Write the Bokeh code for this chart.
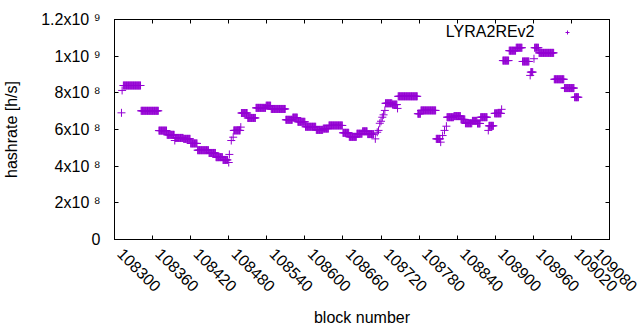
import math
from bokeh.plotting import figure
from bokeh.models import (Range1d, FixedTicker, LinearAxis, Legend, LegendItem,
                          Label, ColumnDataSource)
from bokeh.embed import file_html
from bokeh.resources import INLINE

# ---- data: runs of consecutive blocks sharing one hashrate
run_start = [108311, 108312, 108314, 108342, 108370, 108383, 108395, 108396, 108409, 108420,
             108431, 108449, 108460, 108471, 108480, 108481, 108484, 108487, 108488, 108499,
             108500, 108510, 108523, 108539, 108547, 108570, 108581, 108589, 108601, 108618,
             108629, 108638, 108660, 108670, 108682, 108691, 108699, 108711, 108714, 108716,
             108718, 108720, 108722, 108724, 108726, 108727, 108738, 108746, 108747, 108778,
             108783, 108807, 108814, 108817, 108820, 108823, 108824, 108835, 108846, 108853,
             108864, 108872, 108877, 108889, 108890, 108899, 108910, 108912, 108922, 108933,
             108943, 108955, 108956, 108961, 108962, 108969, 108993, 109009, 109025]
run_end = [108311, 108312, 108341, 108369, 108382, 108394, 108395, 108408, 108419, 108430,
           108448, 108459, 108470, 108478, 108480, 108481, 108484, 108487, 108498, 108499,
           108509, 108522, 108538, 108546, 108569, 108580, 108588, 108600, 108617, 108628,
           108637, 108659, 108669, 108681, 108690, 108698, 108708, 108711, 108714, 108716,
           108718, 108720, 108722, 108724, 108726, 108737, 108745, 108746, 108777, 108782,
           108806, 108813, 108814, 108817, 108820, 108823, 108834, 108845, 108852, 108863,
           108871, 108876, 108887, 108889, 108897, 108909, 108910, 108921, 108932, 108942,
           108953, 108955, 108959, 108961, 108968, 108992, 109008, 109024, 109031]
run_value = [6.91e8, 8.13e8, 8.40e8, 7.02e8, 5.94e8, 5.71e8, 5.40e8, 5.54e8, 5.49e8, 5.24e8,
             4.87e8, 4.72e8, 4.49e8, 4.34e8, 4.20e8, 4.64e8, 5.40e8, 5.58e8, 5.95e8, 6.13e8,
             6.90e8, 6.63e8, 7.18e8, 7.30e8, 7.12e8, 6.53e8, 6.65e8, 6.42e8, 6.15e8, 5.98e8,
             6.05e8, 6.22e8, 5.82e8, 5.60e8, 5.77e8, 5.90e8, 5.75e8, 5.49e8, 5.85e8, 5.95e8,
             6.34e8, 6.45e8, 6.67e8, 6.80e8, 7.04e8, 7.43e8, 7.36e8, 7.15e8, 7.81e8, 6.86e8,
             7.04e8, 5.49e8, 5.31e8, 5.67e8, 5.95e8, 6.18e8, 6.67e8, 6.73e8, 6.55e8, 6.34e8,
             6.47e8, 6.33e8, 6.67e8, 5.95e8, 6.20e8, 6.88e8, 7.10e8, 9.76e8, 10.30e8, 10.46e8,
             9.71e8, 8.95e8, 9.13e8, 9.86e8, 10.46e8, 10.18e8, 8.74e8, 8.26e8, 7.76e8]

x_ticks = [108300, 108360, 108420, 108480, 108540, 108600, 108660, 108720,
           108780, 108840, 108900, 108960, 109020, 109080]
x_tick_labels = ["108300", "108360", "108420", "108480", "108540", "108600", "108660",
                 "108720", "108780", "108840", "108900", "108960", "109020", "109080"]
y_ticks = [0, 200000000, 400000000, 600000000, 800000000, 1000000000, 1200000000]
y_tick_labels = ["0", "2x10 \u2078", "4x10 \u2078", "6x10 \u2078", "8x10 \u2078",
                 "1x10 \u2079", "1.2x10 \u2079"]
series_name = "LYRA2REv2"

blocks, hashrate = [], []
for s, e, v in zip(run_start, run_end, run_value):
    for b in range(s, e + 1):
        blocks.append(b)
        hashrate.append(v)

FONT = "Liberation Sans"
FS = "16px"
COLOR = "#9400D3"

p = figure(frame_width=495, frame_height=220,
           min_border_left=106, min_border_right=31, min_border_top=19, min_border_bottom=75,
           x_range=Range1d(x_ticks[0], x_ticks[-1]), y_range=Range1d(y_ticks[0], y_ticks[-1]),
           output_backend="svg", toolbar_location=None)
p.grid.visible = False
p.outline_line_color = "black"
p.outline_line_alpha = 1.0
p.outline_line_width = 1

src = ColumnDataSource(dict(block=blocks, hashrate=hashrate))
r = p.scatter("block", "hashrate", source=src, marker="cross", size=8,
              line_color=COLOR, line_width=1)

def style(ax):
    ax.minor_tick_line_color = None
    ax.major_tick_in = 4
    ax.major_tick_out = 0
    ax.major_tick_line_color = "black"
    ax.axis_line_color = "black"
    ax.major_label_text_font = FONT
    ax.major_label_text_font_size = FS
    ax.major_label_text_color = "black"
    ax.axis_label_text_font = FONT
    ax.axis_label_text_font_size = FS
    ax.axis_label_text_font_style = "normal"
    ax.axis_label_text_color = "black"

def ticks_only(ax):
    ax.major_label_overrides = {t: "" for t in ax.ticker.ticks}
    ax.major_label_standoff = 0
    ax.major_label_text_font_size = "0px"

# bottom axis; a leading en space moves each rotated label so it starts at its tick,
# like gnuplot's "rotate by -45" labels
xa = p.xaxis[0]
style(xa)
xa.ticker = FixedTicker(ticks=x_ticks)
xa.major_label_overrides = {t: "\u2002" + l for t, l in zip(x_ticks, x_tick_labels)}
xa.major_label_orientation = -math.pi / 4
xa.major_label_standoff = 6
xa.axis_label = "block number"
xa.axis_label_standoff = 5

ya = p.yaxis[0]
style(ya)
ya.ticker = FixedTicker(ticks=y_ticks)
ya.major_label_overrides = {t: l for t, l in zip(y_ticks, y_tick_labels)}
ya.major_label_standoff = 14
ya.axis_label = "hashrate [h/s]"
ya.axis_label_standoff = 18

top = LinearAxis(ticker=FixedTicker(ticks=x_ticks))
style(top)
ticks_only(top)
p.add_layout(top, "above")

right = LinearAxis(ticker=FixedTicker(ticks=y_ticks))
style(right)
ticks_only(right)
p.add_layout(right, "right")

lab = Label(x=420, y=208, x_units="screen", y_units="screen", text=series_name,
            text_align="right", text_baseline="alphabetic",
            text_font=FONT, text_font_size=FS, text_color="black")
p.add_layout(lab)

leg = Legend(items=[LegendItem(label=" ", renderers=[r])], location=(448, 202),
             padding=0, margin=0, spacing=0, glyph_width=10, glyph_height=10,
             label_width=0, label_height=10, label_standoff=0,
             label_text_font_size="1px", border_line_color=None,
             background_fill_alpha=0)
p.add_layout(leg)

open("out.html", "w").write(file_html(p, INLINE))
